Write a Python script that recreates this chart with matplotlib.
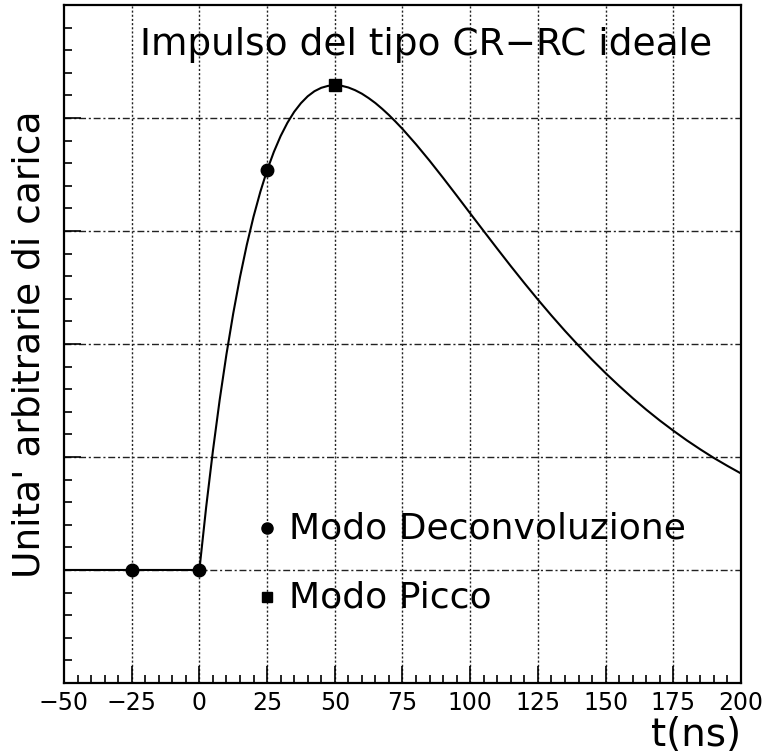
import matplotlib
matplotlib.use('Agg')
import matplotlib.pyplot as plt
from matplotlib.ticker import MultipleLocator, NullFormatter

# curve (arbitrary charge units)
t_ns = [-50, 0, 2.5, 5, 7.5, 10, 12.5, 15, 17.5, 20, 22.5, 25, 27.5, 30,
        32.5, 35, 37.5, 40, 42.5, 45, 47.5, 50, 52.5, 55, 57.5, 60, 62.5,
        65, 67.5, 70, 72.5, 75, 80, 85, 90, 95, 100, 105, 110, 115, 120,
        125, 130, 135, 140, 145, 150, 155, 160, 165, 170, 175, 180, 185,
        190, 195, 200]
charge = [0.0, 0.0, 0.555, 1.055, 1.506, 1.909, 2.270, 2.592, 2.876, 3.127,
          3.346, 3.537, 3.700, 3.840, 3.957, 4.054, 4.131, 4.192, 4.237,
          4.267, 4.284, 4.290, 4.285, 4.270, 4.246, 4.215, 4.176, 4.132,
          4.081, 4.026, 3.966, 3.903, 3.767, 3.622, 3.470, 3.314, 3.156,
          2.999, 2.843, 2.689, 2.539, 2.393, 2.252, 2.116, 1.986, 1.861,
          1.742, 1.629, 1.521, 1.419, 1.323, 1.233, 1.147, 1.067, 0.991,
          0.921, 0.854]

# sampling points
deconv_t = [-25, 0, 25]
deconv_q = [0.0, 0.0, 3.537]
peak_t = [50]
peak_q = [4.290]

# legend entries (positions in data units)
leg_labels = ['Modo Deconvoluzione', 'Modo Picco']
leg_t = [25, 25]
leg_q = [0.37, -0.24]

xticks = [-50, -25, 0, 25, 50, 75, 100, 125, 150, 175, 200]

plt.rcParams['font.family'] = ['DejaVu Sans']

fig = plt.figure(figsize=(7.67, 7.55), dpi=100)
ax = fig.add_axes([0.0834, 0.0954, 0.8827, 0.898])

ax.set_xlim(-50, 200)
ax.set_ylim(-1, 5)

for x in xticks[1:-1]:
    ax.axvline(x, color='#222222', lw=1.0, ls=(0, (1.5, 1.5)), zorder=1)
for y in [0, 1, 2, 3, 4]:
    ax.axhline(y, color='#222222', lw=1.0, ls=(0, (5, 2, 1.5, 2)), zorder=1)

ax.plot(t_ns, charge, color='black', lw=1.5, zorder=3)
ax.plot(deconv_t, deconv_q, 'o', color='black', ms=9, zorder=4)
ax.plot(peak_t, peak_q, 's', color='black', ms=8, zorder=4)

ax.plot(leg_t[0], leg_q[0], 'o', color='black', ms=8)
ax.plot(leg_t[1], leg_q[1], 's', color='black', ms=7)
for lt, lq, lab in zip(leg_t, leg_q, leg_labels):
    ax.text(lt + 8, lq, lab, fontsize=26, va='center', ha='left')

ax.text(0.535, 0.941, 'Impulso del tipo CR\u2212RC ideale', transform=ax.transAxes,
        fontsize=27, ha='center', va='center')

ax.set_xticks(xticks)
ax.set_xticklabels([str(v).replace('-', '\u2212') for v in xticks], fontsize=17)
ax.xaxis.set_minor_locator(MultipleLocator(5))
ax.yaxis.set_major_locator(MultipleLocator(1))
ax.yaxis.set_minor_locator(MultipleLocator(0.2))
ax.yaxis.set_major_formatter(NullFormatter())
ax.tick_params(axis='both', which='major', direction='in', length=12, width=1.2,
               pad=6)
ax.tick_params(axis='both', which='minor', direction='in', length=6, width=1.2)
ax.tick_params(axis='x', which='both', top=False)
ax.tick_params(axis='y', which='both', right=False)
for s in ax.spines.values():
    s.set_linewidth(1.6)

ax.set_ylabel("Unita' arbitrarie di carica", fontsize=27, labelpad=6)
fig.text(0.966, 0.027, 't(ns)', fontsize=28, ha='right', va='center')

fig.savefig('out.png', dpi=100)
